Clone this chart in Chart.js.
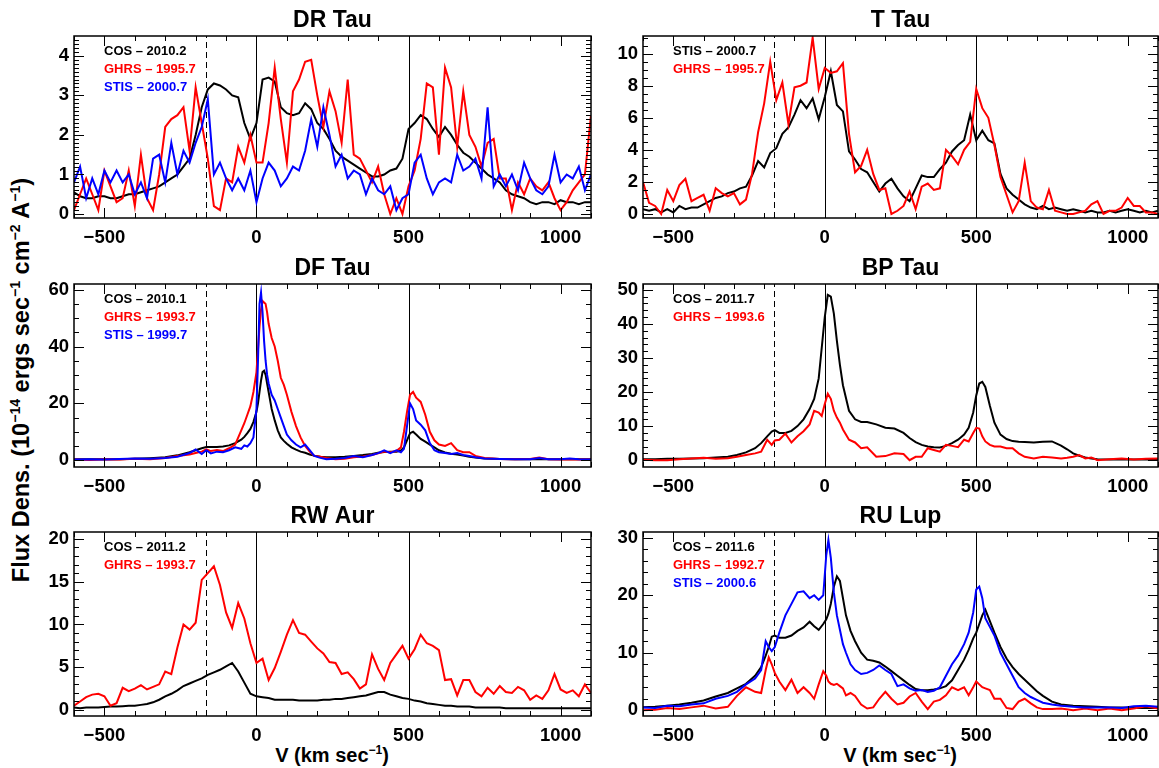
<!DOCTYPE html>
<html>
<head>
<meta charset="utf-8">
<script src="https://cdn.jsdelivr.net/npm/chart.js@4.4.1/dist/chart.umd.min.js"></script>
<style>
  html, body { margin: 0; padding: 0; background: #fff; }
  #page { position: relative; width: 1159px; height: 768px; overflow: hidden; background: #fff; }
  canvas { position: absolute; }
  .axt { position: absolute; font: bold 20px 'Liberation Sans', Arial, Helvetica, sans-serif; color: #000;
         white-space: nowrap; transform: translate(-50%, -50%); line-height: 1; }
  .axt sup { font-size: 0.6em; vertical-align: baseline; position: relative; top: -0.65em; }
  #ytitle { font-size: 23.5px; transform: translate(-50%, -50%) rotate(-90deg); }
</style>
</head>
<body>
<div id="page">
  <div class="axt" style="left:332px; top:755px">V (km sec<sup>−1</sup>)</div>
  <div class="axt" style="left:900px; top:755px">V (km sec<sup>−1</sup>)</div>
  <div class="axt" id="ytitle" style="left:22px; top:380px">Flux Dens. (10<sup>−14</sup> ergs sec<sup>−1</sup> cm<sup>−2</sup> A<sup>−1</sup>)</div>
</div>
<script>
// ─── Velocity grid (km/s) shared by the noisier spectra ───
const V20 = [
  -600,-580,-560,-540,-520,-500,-480,-460,-440,-420,
  -400,-380,-360,-340,-320,-300,-280,-260,-240,-220,
  -200,-180,-160,-140,-120,-100,-80,-60,-40,-20,
  0,20,40,60,80,100,120,140,160,180,
  200,220,240,260,280,300,320,340,360,380,
  400,420,440,460,480,500,520,540,560,580,
  600,620,640,660,680,700,720,740,760,780,
  800,820,840,860,880,900,920,940,960,980,
  1000,1020,1040,1060,1080,1100
];

const X_TICKS = [-500, 0, 500, 1000];
const REF_VEL = [-167, 0, 500];

// ─── DR Tau ───
const DR_Y_TICKS = [0, 1, 2, 3, 4];
const DR_COS = [
  0.55,0.45,0.4,0.4,0.45,0.45,0.4,0.4,0.45,0.5,
  0.5,0.55,0.6,0.65,0.7,0.8,0.9,1.0,1.2,1.4,
  2.0,2.7,3.15,3.3,3.25,3.15,3.0,2.95,2.3,1.9,
  2.3,3.4,3.45,3.35,2.7,2.55,2.5,2.55,2.8,2.65,
  2.3,2.15,1.9,1.6,1.45,1.35,1.25,1.15,1.05,0.95,
  0.95,1.0,1.1,1.15,1.4,2.15,2.3,2.5,2.4,2.15,
  1.95,2.2,2.0,1.75,1.55,1.45,1.3,1.15,1.0,0.9,
  0.8,0.6,0.5,0.45,0.4,0.3,0.25,0.3,0.3,0.25,
  0.35,0.3,0.3,0.25,0.3,0.3
];
const DR_GHRS = [
  0.1,0.5,0.9,0.5,0.1,1.1,0.7,0.3,0.4,1.1,
  0.2,1.5,0.4,0.1,1.0,2.2,2.4,2.5,2.7,1.6,
  3.2,2.3,1.4,0.2,0.1,0.9,0.8,1.7,1.3,2.0,
  1.3,1.3,2.3,3.7,2.4,1.3,3.1,3.4,3.85,3.9,
  3.0,2.2,3.1,2.6,1.8,3.4,1.5,1.4,1.1,0.8,
  1.2,0.5,0.0,0.4,0.0,0.7,1.1,1.9,3.3,3.2,
  1.5,3.7,3.2,1.7,3.1,2.0,1.7,1.2,1.8,1.9,
  0.9,0.9,0.1,0.8,0.5,0.9,0.7,0.6,0.8,0.4,
  0.1,0.3,0.6,0.8,1.0,2.5
];
const DR_STIS = [
  0.8,1.2,0.4,0.9,0.5,1.1,0.8,1.1,0.8,1.0,
  0.5,0.8,0.4,1.4,1.5,0.8,1.8,1.0,1.6,1.3,
  1.8,2.2,2.9,1.0,1.3,0.9,0.6,0.9,0.6,1.1,
  0.3,0.9,1.3,1.1,0.7,0.9,1.2,1.1,1.6,2.4,
  1.7,2.7,2.0,1.2,1.5,0.9,1.1,1.0,0.5,0.9,
  0.6,0.5,0.7,0.1,0.4,0.5,1.3,1.5,0.9,0.5,
  0.8,0.9,0.8,1.5,1.1,1.2,1.4,0.9,2.7,0.7,
  1.0,0.7,1.0,0.6,1.3,0.9,0.6,0.5,0.7,1.5,
  0.8,1.0,0.9,1.2,0.6,1.0
];

// ─── T Tau ───
const TT_Y_TICKS = [0, 2, 4, 6, 8, 10];
const TT_STIS = [
  0.3,0.2,0.3,0.1,0.3,0.1,0.5,0.3,0.4,0.4,
  0.6,0.8,1.0,1.1,1.3,1.4,1.6,1.7,2.4,3.3,
  2.9,3.8,4.1,5.0,5.4,6.2,7.1,6.6,7.2,5.9,
  7.3,8.9,6.8,6.4,3.9,3.4,2.8,2.6,2.0,1.4,
  1.9,2.2,1.6,1.1,0.8,1.6,2.4,2.3,2.3,2.8,
  3.2,3.9,4.3,4.6,6.2,4.6,5.2,4.6,4.4,2.5,
  1.6,1.2,0.9,0.6,0.4,0.3,0.5,0.3,0.4,0.3,
  0.2,0.3,0.2,0.1,0.2,0.1,0.1,0.2,0.1,0.2,
  0.3,0.2,0.1,0.2,0.1,0.2
];
const TT_GHRS = [
  2.0,0.7,0.5,0.0,1.5,0.8,1.8,2.2,0.8,1.0,
  1.2,0.2,1.6,1.3,1.1,1.3,0.6,0.9,2.5,5.1,
  6.9,9.5,7.1,8.2,5.6,7.9,8.0,8.2,11.0,7.8,
  9.1,8.8,8.9,9.4,5.0,2.6,3.0,4.0,2.5,1.5,
  1.6,0.0,0.2,0.5,1.4,0.3,1.7,1.9,1.5,1.6,
  4.0,3.6,3.1,4.0,4.5,7.8,6.6,6.0,4.3,2.3,
  1.2,0.1,0.8,3.2,0.8,0.4,0.3,1.5,0.2,0.1,
  0.0,0.0,0.1,0.2,0.6,0.8,0.0,0.2,0.2,0.4,
  1.0,0.5,0.5,0.1,0.1,0.0
];

// ─── DF Tau ───
const DF_Y_TICKS = [0, 20, 40, 60];
const DF_VEL = [
  -600,-550,-500,-450,-400,-350,-300,-260,-220,-200,
  -180,-165,-150,-130,-110,-90,-70,-50,-40,-30,
  -20,-10,0,5,10,15,20,25,30,35,
  40,50,60,70,80,90,100,115,130,145,
  160,175,190,210,230,260,290,320,350,380,
  400,420,440,460,475,485,495,505,515,525,
  540,555,570,585,600,620,640,660,680,700,
  720,750,800,850,900,930,960,1000,1030,1060,
  1100
];
const DF_COS = [
  0.3,0.3,0.3,0.3,0.5,0.7,1.0,1.7,2.8,3.5,
  4.2,4.6,4.6,4.6,4.8,5.2,6.0,7.2,8.2,9.5,
  11,13.5,17,20,24,28,31,31.5,30,27,
  24,18,14,10.5,8,6.8,5.8,4.5,3.7,3.0,
  2.6,2.0,1.6,1.2,1.0,1.0,1.2,1.5,1.8,2.2,
  2.6,2.9,3.0,3.0,3.4,4.5,7,9.5,10,9,
  7.5,6.5,5.5,4.5,3.5,2.7,2.3,2.0,1.6,1.2,
  0.9,0.6,0.4,0.3,0.3,0.3,0.3,0.3,0.3,0.3,
  0.3
];
const DF_GHRS = [
  0.2,0.1,0.3,0.2,0.5,0.3,0.8,1.5,2.0,2.5,
  3.0,3.8,3.2,3.6,3.2,4.2,5.5,10.5,13,16,
  19,24,31,39,47,53,56,55.5,55,52,
  48,43,40,35,29,26.5,23,17,12,8,
  5,3,1.5,1.2,0.8,0.3,0.5,1.0,1.3,1.8,
  2.4,3.0,2.8,3.2,4.5,10,17,23,24,22,
  20.5,16,10,7,5.5,5.0,6.0,3.5,2.8,2.8,
  1.5,0.8,0.4,0.3,0.4,0.9,0.3,0.2,0.3,0.2,
  0.2
];
const DF_STIS = [
  0.2,0.3,0.2,0.4,0.6,0.5,0.8,1.2,2.5,3.8,
  2.2,3.5,2.4,3.0,2.8,3.5,4.5,4.0,5.2,4.8,
  6.0,8.0,18,35,55,59,52,42,35,30,
  27,23,21,18,15,12,9,7,5.5,4.5,
  5.5,3.5,1.5,0.8,0.3,0.5,0.8,1.5,1.0,1.8,
  2.5,3.5,2.5,3.5,2.8,4.0,12,20,18,14,
  12.5,10.5,6,3.5,2.8,2.5,2.2,2.5,1.8,1.5,
  1.0,0.6,0.4,0.3,0.3,0.8,0.3,0.3,0.6,0.3,
  0.2
];

// ─── BP Tau ───
const BP_Y_TICKS = [0, 10, 20, 30, 40, 50];
const BP_VEL = [
  -600,-560,-520,-480,-440,-400,-360,-320,-290,-260,
  -230,-210,-190,-175,-165,-150,-130,-110,-90,-70,
  -50,-35,-20,-10,0,10,20,30,40,50,
  60,80,100,120,140,170,200,230,260,280,
  300,320,340,360,380,400,420,440,460,475,
  490,500,510,520,530,545,560,580,600,620,
  640,660,690,720,750,780,800,820,840,860,
  880,900,940,980,1020,1060,1100
];
const BP_COS = [
  0.3,0.3,0.4,0.4,0.5,0.6,0.8,1.0,1.5,2.3,
  3.5,5.0,7.0,8.4,8.8,8.0,8.0,8.6,10,12,
  15,18,24,33,42,48.5,48,43,35,28,
  22,14.5,12,11.2,11.2,10.5,9.5,9.3,8.0,6.5,
  5.3,4.5,4.0,3.8,3.7,4.2,5.0,6.0,7.5,9.5,
  14,19,22.5,23,21.5,16,11,7.5,6.2,5.6,
  5.4,5.3,5.2,5.4,5.5,4.3,3.2,2.0,1.3,0.8,
  0.5,0.3,0.2,0.2,0.2,0.2,0.2
];
const BP_GHRS = [
  0.1,0.0,0.0,0.3,0.5,0.7,0.4,0.6,1.0,1.5,
  2.0,2.5,6.0,4.5,5.8,6.0,7.8,5.2,7.0,8.5,
  10.5,14.5,14,13,16.5,19.5,18,14.5,12.5,11,
  9,6,5.2,3.5,3.8,1.0,1.2,2.0,1.8,0.0,
  1.0,1.0,3.5,3.0,2.5,4.5,4.2,3.8,6.0,5.5,
  8.0,9.5,9.3,7.0,5.5,4.5,4.0,4.0,3.5,3.5,
  2.0,1.0,0.5,1.0,0.8,0.5,0.7,1.0,1.5,0.5,
  0.8,0.0,0.3,0.5,0.2,0.4,0.5
];

// ─── RW Aur ───
const RW_Y_TICKS = [0, 5, 10, 15, 20];
const RW_COS = [
  0.3,0.2,0.3,0.3,0.3,0.35,0.4,0.4,0.45,0.5,
  0.5,0.6,0.7,0.9,1.2,1.6,1.9,2.3,2.8,3.1,
  3.4,3.7,4.1,4.4,4.7,5.1,5.5,4.5,3.2,1.9,
  1.6,1.5,1.4,1.2,1.2,1.2,1.2,1.1,1.1,1.1,
  1.1,1.2,1.2,1.3,1.3,1.4,1.5,1.6,1.7,1.9,
  2.1,2.1,1.8,1.6,1.4,1.3,1.1,1.0,0.8,0.7,
  0.6,0.5,0.5,0.4,0.4,0.4,0.3,0.3,0.3,0.3,
  0.3,0.2,0.2,0.2,0.2,0.2,0.2,0.2,0.2,0.2,
  0.2,0.2,0.2,0.2,0.2,0.2
];
const RW_GHRS = [
  0.5,1.0,1.5,1.8,1.9,1.6,0.5,0.8,2.6,2.2,
  2.5,2.9,2.4,2.7,3.0,4.5,4.2,7.3,10.0,9.4,
  10.2,15.2,16.0,16.8,14.6,11.4,9.6,12.5,10.7,7.8,
  5.5,6.0,3.5,4.9,6.8,8.8,10.5,9.0,8.8,8.0,
  7.2,6.6,5.6,5.5,4.2,4.4,3.6,2.5,3.0,6.5,
  4.8,3.5,5.5,6.5,7.5,6.0,7.1,8.8,7.8,7.5,
  7.0,3.5,3.6,1.7,3.5,3.5,2.1,1.6,2.6,1.9,
  2.8,2.1,2.0,2.7,2.3,1.2,1.7,1.3,2.3,4.2,
  2.4,2.0,2.3,1.6,3.0,2.0
];

// ─── RU Lup ───
const RU_Y_TICKS = [0, 10, 20, 30];
const RU_VEL = [
  -600,-560,-520,-480,-440,-400,-360,-320,-290,-260,
  -230,-210,-195,-185,-175,-165,-150,-130,-110,-90,
  -70,-50,-35,-20,-5,5,12,20,30,40,
  50,60,70,85,100,120,140,160,180,200,
  220,240,260,280,300,320,340,360,380,400,
  420,440,460,475,490,500,510,520,530,545,
  560,580,600,620,640,660,680,700,720,750,
  780,820,860,900,940,980,1020,1060,1100
];
const RU_COS = [
  0.5,0.6,0.8,1.0,1.3,1.7,2.4,3.0,3.8,4.6,
  6.0,7.5,9.5,11.0,12.8,13.0,12.6,12.6,13.0,13.8,
  14.4,15.4,14.6,14.0,15.0,15.8,16.8,18.5,21.5,23.3,
  22.5,19.5,16.5,13.8,12,10,8.8,8.6,8.3,7.6,
  6.8,6.0,5.2,4.4,3.7,3.5,3.5,3.6,3.8,4.2,
  5.2,7.0,8.8,10.5,12.5,13.5,15,16.5,17.5,15.5,
  13.5,11,9,7.5,6.3,5.3,4.3,3.3,2.5,1.5,
  1.0,0.8,0.7,0.6,0.5,0.5,0.4,0.4,0.4
];
const RU_GHRS = [
  0.0,0.1,0.4,0.2,0.5,0.8,0.3,0.6,2.5,4.0,
  3.2,3.0,7.0,9.2,8.0,6.5,5.0,3.5,5.3,3.0,
  4.0,3.0,2.0,4.5,6.8,6.0,5.0,4.6,4.4,4.6,
  4.2,3.8,2.6,3.0,2.5,1.0,0.3,0.5,2.0,3.2,
  2.0,1.0,1.3,2.4,3.0,1.5,0.2,1.5,1.8,2.6,
  4.0,3.5,4.0,2.6,4.0,5.0,4.5,4.0,3.8,3.5,
  2.0,2.0,0.4,0.2,1.5,2.0,1.2,0.5,0.2,0.2,
  0.3,0.0,0.3,0.0,0.3,0.0,0.3,0.7,0.3
];
const RU_STIS = [
  0.5,0.4,0.8,0.7,1.0,1.2,2.0,2.5,3.2,4.5,
  5.5,7.0,12.0,11.0,10.3,11.0,13.5,16.5,18.5,20.5,
  20.7,19.5,20.0,19.2,20.0,27,29.6,26.5,20.5,16.5,
  14,11.5,10,8,7,6.3,6.5,7.0,7.8,7.0,
  6.3,4.2,4.5,3.8,3.4,3.5,3.2,3.4,4.0,6.0,
  8.0,9.5,11.5,13.5,17,21,21.5,19.5,16,14.5,
  13,10,8,6,4,3,2.3,1.8,1.3,1.0,
  0.8,0.6,0.5,0.5,0.5,0.4,0.7,0.8,0.6
];

// ─── Layout ───
const BLACK = '#000000', RED = '#ff0000', BLUE = '#0000ff';
const FONT = "'Liberation Sans', Arial, Helvetica, sans-serif";
const COLS = [
  { canvasLeft: 10, canvasWidth: 590, plotLeft: 74, plotRight: 591 },
  { canvasLeft: 600, canvasWidth: 559, plotLeft: 643, plotRight: 1158 }
];
const ROWS = [
  { canvasTop: 0, plotTop: 36, plotBottom: 218 },
  { canvasTop: 248, plotTop: 284, plotBottom: 467 },
  { canvasTop: 496, plotTop: 532, plotBottom: 716 }
];
const X_AXIS_H = 30;

const PANELS = [
  { title: 'DR Tau', col: 0, row: 0, yMin: -0.1, yMax: 4.5, yTicks: DR_Y_TICKS, yMinor: 0.1,
    series: [['COS – 2010.2', BLACK, V20, DR_COS], ['GHRS – 1995.7', RED, V20, DR_GHRS], ['STIS – 2000.7', BLUE, V20, DR_STIS]] },
  { title: 'T Tau', col: 1, row: 0, yMin: -0.25, yMax: 11.1, yTicks: TT_Y_TICKS, yMinor: 0.5,
    series: [['STIS – 2000.7', BLACK, V20, TT_STIS], ['GHRS – 1995.7', RED, V20, TT_GHRS]] },
  { title: 'DF Tau', col: 0, row: 1, yMin: -2.4, yMax: 62, yTicks: DF_Y_TICKS, yMinor: 5,
    series: [['COS – 2010.1', BLACK, DF_VEL, DF_COS], ['GHRS – 1993.7', RED, DF_VEL, DF_GHRS], ['STIS – 1999.7', BLUE, DF_VEL, DF_STIS]] },
  { title: 'BP Tau', col: 1, row: 1, yMin: -2, yMax: 51.7, yTicks: BP_Y_TICKS, yMinor: 2,
    series: [['COS – 2011.7', BLACK, BP_VEL, BP_COS], ['GHRS – 1993.6', RED, BP_VEL, BP_GHRS]] },
  { title: 'RW Aur', col: 0, row: 2, yMin: -0.7, yMax: 20.8, yTicks: RW_Y_TICKS, yMinor: 1,
    series: [['COS – 2011.2', BLACK, V20, RW_COS], ['GHRS – 1993.7', RED, V20, RW_GHRS]] },
  { title: 'RU Lup', col: 1, row: 2, yMin: -1, yMax: 31, yTicks: RU_Y_TICKS, yMinor: 2,
    series: [['COS – 2011.6', BLACK, RU_VEL, RU_COS], ['GHRS – 1992.7', RED, RU_VEL, RU_GHRS], ['STIS – 2000.6', BLUE, RU_VEL, RU_STIS]] }
];

// ─── IDL-style frame: box, inward major/minor ticks, reference lines, title, legend ───
const idlAxes = {
  id: 'idlAxes',
  beforeDatasetsDraw(chart) {
    const { ctx, chartArea: a, scales: { x } } = chart;
    ctx.save();
    ctx.strokeStyle = '#000';
    ctx.lineWidth = 1;
    REF_VEL.forEach(v => {
      const px = Math.round(x.getPixelForValue(v)) + 0.5;
      ctx.setLineDash(v < 0 ? [6, 4] : []);
      ctx.beginPath();
      ctx.moveTo(px, a.bottom);
      ctx.lineTo(px, a.top);
      ctx.stroke();
    });
    ctx.restore();
  },
  afterDraw(chart, args, opts) {
    const { ctx, chartArea: a, scales: { x, y } } = chart;
    const tick = (x1, y1, x2, y2) => { ctx.beginPath(); ctx.moveTo(x1, y1); ctx.lineTo(x2, y2); ctx.stroke(); };
    ctx.save();
    ctx.strokeStyle = '#000';
    ctx.lineWidth = 1;
    for (let k = Math.ceil(x.min / 100); k * 100 <= x.max; k++) {
      const v = k * 100;
      const len = X_TICKS.includes(v) ? 10 : 5;
      const px = Math.round(x.getPixelForValue(v)) + 0.5;
      tick(px, a.bottom, px, a.bottom - len);
      tick(px, a.top, px, a.top + len);
    }
    const step = opts.minor;
    for (let k = Math.ceil(y.min / step + 1e-6); k * step < y.max - 1e-6; k++) {
      const v = k * step;
      const len = opts.major.some(m => Math.abs(m - v) < step / 10) ? 10 : 5;
      const py = Math.round(y.getPixelForValue(v)) + 0.5;
      tick(a.left, py, a.left + len, py);
      tick(a.right, py, a.right - len, py);
    }
    ctx.lineWidth = 1.5;
    ctx.strokeRect(a.left, a.top, a.right - a.left, a.bottom - a.top);

    ctx.fillStyle = '#000';
    ctx.font = `bold 23px ${FONT}`;
    ctx.textAlign = 'center';
    ctx.textBaseline = 'alphabetic';
    ctx.fillText(opts.title, (a.left + a.right) / 2, a.top - 9);

    ctx.font = `bold 13px ${FONT}`;
    ctx.textAlign = 'left';
    chart.data.datasets.forEach((ds, i) => {
      ctx.fillStyle = ds.borderColor;
      ctx.fillText(ds.label, a.left + 30, a.top + 19 + i * 18);
    });
    ctx.restore();
  }
};

const tickFont = { family: FONT, size: 18.5, weight: 'bold' };
const fmt = v => String(v).replace('-', '\u2212');
const page = document.getElementById('page');

PANELS.forEach(p => {
  const col = COLS[p.col], row = ROWS[p.row];
  const cv = document.createElement('canvas');
  const h = row.plotBottom - row.canvasTop + X_AXIS_H;
  cv.width = col.canvasWidth;
  cv.height = h;
  cv.style.left = col.canvasLeft + 'px';
  cv.style.top = row.canvasTop + 'px';
  cv.style.width = col.canvasWidth + 'px';
  cv.style.height = h + 'px';
  page.appendChild(cv);

  const n = p.series.length;
  new Chart(cv, {
    type: 'line',
    data: {
      datasets: p.series.map(([label, color, vel, flux], i) => ({
        label,
        data: vel.map((v, j) => ({ x: v, y: flux[j] })),
        borderColor: color,
        borderWidth: 2,
        pointRadius: 0,
        tension: 0,
        fill: false,
        clip: 0,
        order: n - i
      }))
    },
    options: {
      responsive: false,
      animation: false,
      devicePixelRatio: 1,
      events: [],
      layout: { padding: { left: 0, top: row.plotTop - row.canvasTop, right: col.canvasLeft + col.canvasWidth - col.plotRight, bottom: 0 } },
      plugins: {
        legend: { display: false },
        tooltip: { enabled: false },
        title: { display: false },
        idlAxes: { title: p.title, major: p.yTicks, minor: p.yMinor }
      },
      scales: {
        x: {
          type: 'linear', min: -600, max: 1100,
          grid: { display: false, drawTicks: false },
          border: { display: false },
          afterBuildTicks: s => { s.ticks = X_TICKS.map(v => ({ value: v })); },
          afterFit: s => { s.height = X_AXIS_H; },
          ticks: { padding: 9, color: '#000', font: tickFont, maxRotation: 0, autoSkip: false, callback: fmt }
        },
        y: {
          type: 'linear', min: p.yMin, max: p.yMax,
          grid: { display: false, drawTicks: false },
          border: { display: false },
          afterBuildTicks: s => { s.ticks = p.yTicks.map(v => ({ value: v })); },
          afterFit: s => { s.width = col.plotLeft - col.canvasLeft; },
          ticks: { padding: 5, color: '#000', font: tickFont, autoSkip: false, callback: fmt }
        }
      }
    },
    plugins: [idlAxes]
  });
});
</script>
</body>
</html>
